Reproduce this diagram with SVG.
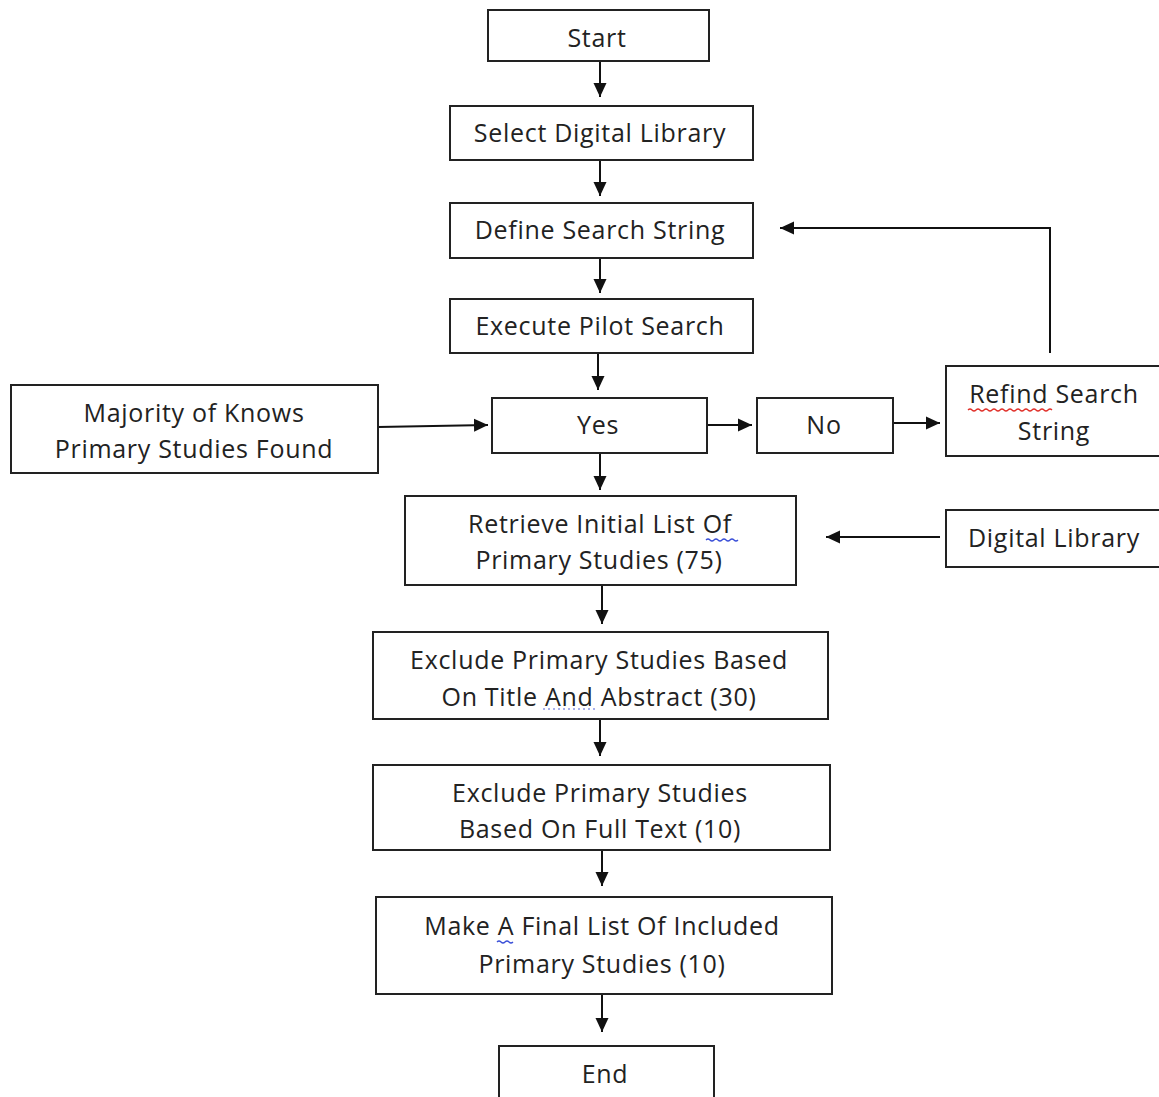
<svg xmlns="http://www.w3.org/2000/svg" width="1159" height="1097" viewBox="0 0 1159 1097">
<style>
.box{fill:#fff;stroke:#222;stroke-width:2}
.t{font-family:"Open Sans","Liberation Sans",sans-serif;font-size:25px;letter-spacing:0.7px;fill:#222;text-anchor:middle}
.c{fill:none;stroke:#111;stroke-width:2}
.sq{fill:none;stroke-width:1.3}
</style>
<defs>
<marker id="ah" markerUnits="userSpaceOnUse" markerWidth="15" markerHeight="15" refX="14" refY="7.5" orient="auto">
<path d="M0,1 L14,7.5 L0,14 Z" fill="#111"/>
</marker>
</defs>
<rect width="1159" height="1097" fill="#fff"/>
<g id="connectors">
<line class="c" x1="600" y1="61" x2="600" y2="97" marker-end="url(#ah)"/>
<line class="c" x1="600" y1="160" x2="600" y2="196" marker-end="url(#ah)"/>
<line class="c" x1="600" y1="258" x2="600" y2="293" marker-end="url(#ah)"/>
<line class="c" x1="598" y1="353" x2="598" y2="390" marker-end="url(#ah)"/>
<line class="c" x1="378" y1="427" x2="488" y2="425" marker-end="url(#ah)"/>
<line class="c" x1="707" y1="425" x2="752" y2="425" marker-end="url(#ah)"/>
<line class="c" x1="893" y1="423" x2="940" y2="423" marker-end="url(#ah)"/>
<polyline class="c" points="1050,353 1050,228 780,228" marker-end="url(#ah)"/>
<line class="c" x1="600" y1="453" x2="600" y2="490" marker-end="url(#ah)"/>
<line class="c" x1="940" y1="537" x2="826" y2="537" marker-end="url(#ah)"/>
<line class="c" x1="602" y1="585" x2="602" y2="624" marker-end="url(#ah)"/>
<line class="c" x1="600" y1="719" x2="600" y2="756" marker-end="url(#ah)"/>
<line class="c" x1="602" y1="850" x2="602" y2="886" marker-end="url(#ah)"/>
<line class="c" x1="602" y1="994" x2="602" y2="1032" marker-end="url(#ah)"/>
</g>
<g id="start"><rect class="box" x="488" y="10" width="221" height="51"/><text class="t" x="597" y="47">Start</text></g>
<g id="select"><rect class="box" x="450" y="106" width="303" height="54"/><text class="t" x="600" y="142">Select Digital Library</text></g>
<g id="define"><rect class="box" x="450" y="203" width="303" height="55"/><text class="t" x="600" y="239">Define Search String</text></g>
<g id="execute"><rect class="box" x="450" y="299" width="303" height="54"/><text class="t" x="600" y="335">Execute Pilot Search</text></g>
<g id="majority"><rect class="box" x="11" y="385" width="367" height="88"/><text class="t" x="194" y="422">Majority of Knows</text><text class="t" x="194" y="458">Primary Studies Found</text></g>
<g id="yes"><rect class="box" x="492" y="398" width="215" height="55"/><text class="t" x="598" y="434">Yes</text></g>
<g id="no"><rect class="box" x="757" y="398" width="136" height="55"/><text class="t" x="824" y="434">No</text></g>
<g id="refind"><rect class="box" x="946" y="366" width="220" height="90"/><text class="t" x="1054" y="403">Refind Search</text><text class="t" x="1054" y="440">String</text>
<path class="sq" stroke="#e0302a" d="M968,410 q2,-2 4,0 t4,0 t4,0 t4,0 t4,0 t4,0 t4,0 t4,0 t4,0 t4,0 t4,0 t4,0 t4,0 t4,0 t4,0 t4,0 t4,0 t4,0 t4,0 t4,0 t4,0"/></g>
<g id="retrieve"><rect class="box" x="405" y="496" width="391" height="89"/><text class="t" x="600" y="533">Retrieve Initial List Of</text><text class="t" x="599" y="569">Primary Studies (75)</text>
<path class="sq" stroke="#3a4fd8" d="M706,540 q2,-2 4,0 t4,0 t4,0 t4,0 t4,0 t4,0 t4,0 t4,0"/></g>
<g id="diglib"><rect class="box" x="946" y="510" width="220" height="57"/><text class="t" x="1054" y="547">Digital Library</text></g>
<g id="exclude1"><rect class="box" x="373" y="632" width="455" height="87"/><text class="t" x="599" y="669">Exclude Primary Studies Based</text><text class="t" x="599" y="706">On Title And Abstract (30)</text>
<path class="sq" stroke="#8a96e6" stroke-dasharray="2,3" d="M543,709 L595,709"/></g>
<g id="exclude2"><rect class="box" x="373" y="765" width="457" height="85"/><text class="t" x="600" y="802">Exclude Primary Studies</text><text class="t" x="600" y="838">Based On Full Text (10)</text></g>
<g id="make"><rect class="box" x="376" y="897" width="456" height="97"/><text class="t" x="602" y="935">Make A Final List Of Included</text><text class="t" x="602" y="973">Primary Studies (10)</text>
<path class="sq" stroke="#3a4fd8" d="M497,942 q2,-2 4,0 t4,0 t4,0 t4,0"/></g>
<g id="end"><rect class="box" x="499" y="1046" width="215" height="60"/><text class="t" x="605" y="1083">End</text></g>
</svg>
